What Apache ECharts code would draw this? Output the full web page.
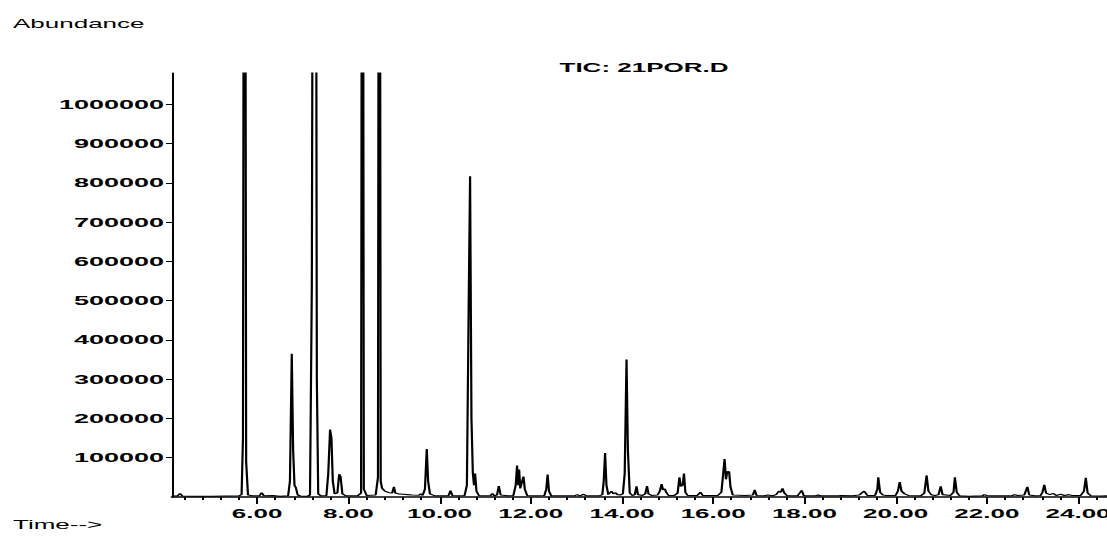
<!DOCTYPE html>
<html>
<head>
<meta charset="utf-8">
<script src="https://cdn.jsdelivr.net/npm/echarts@6/dist/echarts.min.js"></script>
<style>
  html, body { margin: 0; padding: 0; background: #fff; overflow: hidden; }
  #wrap { width: 1107px; height: 543px; overflow: hidden; position: relative; }
  /* chart laid out at half width, then widened like the instrument printout */
  #chart { width: 553.5px; height: 543px; transform: scaleX(2); transform-origin: 0 0; }
</style>
</head>
<body>
<div id="wrap"><div id="chart"></div></div>
<script>
// Total ion chromatogram: retention time (min) and abundance
const rt = [
  4.13, 4.25, 4.31, 4.36, 4.60, 5.00, 5.30, 5.60, 5.66, 5.69, 5.725, 5.76, 5.80, 5.90,
  6.05, 6.10, 6.15, 6.35, 6.50, 6.68, 6.72, 6.76, 6.79, 6.82, 6.85, 6.89, 6.95,
  7.10, 7.16, 7.20, 7.24, 7.26, 7.28, 7.31, 7.34, 7.40, 7.52, 7.56, 7.60, 7.63, 7.66, 7.70,
  7.76, 7.80, 7.83, 7.87, 7.95, 8.20, 8.28, 8.31, 8.34, 8.40, 8.60, 8.65, 8.68,
  8.71, 8.74, 8.80, 8.90, 8.96, 9.00, 9.03, 9.10, 9.20, 9.30, 9.40, 9.55, 9.59, 9.63,
  9.68, 9.72, 9.75, 9.79, 9.90, 10.10, 10.20, 10.24, 10.28, 10.45, 10.55, 10.60, 10.64,
  10.67, 10.70, 10.73, 10.755, 10.78, 10.81, 10.86, 11.00, 11.12, 11.16, 11.20, 11.26,
  11.30, 11.34, 11.50, 11.62, 11.67, 11.70, 11.725, 11.745, 11.77, 11.80, 11.84, 11.87,
  11.92, 12.10, 12.30, 12.34, 12.37, 12.40, 12.45, 12.80, 12.95, 13.02, 13.08, 13.16,
  13.22, 13.50, 13.57, 13.60, 13.63, 13.66, 13.70, 13.77, 13.81, 13.86, 13.90, 13.96,
  14.02, 14.06, 14.10, 14.13, 14.17, 14.23, 14.28, 14.32, 14.35, 14.45, 14.51, 14.55,
  14.58, 14.65, 14.78, 14.83, 14.87, 14.90, 14.94, 14.97, 15.02, 15.15, 15.22, 15.26,
  15.29, 15.33, 15.36, 15.39, 15.44, 15.65, 15.72, 15.77, 16.10, 16.18, 16.22, 16.25,
  16.28, 16.31, 16.35, 16.38, 16.43, 16.70, 16.87, 16.91, 16.95, 17.12, 17.20, 17.30,
  17.38, 17.44, 17.48, 17.52, 17.56, 17.62, 17.85, 17.94, 17.99, 18.25, 18.30, 18.35,
  18.75, 18.80, 19.05, 19.20, 19.31, 19.38, 19.55, 19.60, 19.62, 19.66, 19.72, 19.80,
  20.00, 20.05, 20.09, 20.13, 20.20, 20.28, 20.55, 20.63, 20.68, 20.72, 20.78, 20.86,
  20.94, 20.99, 21.03, 21.20, 21.27, 21.30, 21.34, 21.40, 21.60, 21.90, 21.94, 22.00,
  22.10, 22.55, 22.60, 22.68, 22.82, 22.89, 22.93, 23.05, 23.18, 23.22, 23.26, 23.30,
  23.38, 23.46, 23.52, 23.62, 23.70, 23.80, 23.88, 24.06, 24.13, 24.17, 24.21, 24.28,
  24.50, 24.66
];
const abundance = [
  3000, 2500, 9000, 2500, 2000, 2000, 2500, 3000, 6000, 150000, 3000000, 90000, 5000, 3000,
  3000, 11000, 3000, 4000, 2000, 3000, 40000, 365000, 120000, 30000, 24000, 5000, 2500,
  2000, 5000, 540000, 2600000, 1500000, 2500000, 300000, 8000, 3000, 4000, 60000, 172000, 150000, 40000, 8000,
  10000, 58000, 52000, 8000, 3000, 3000, 10000, 3000000, 20000, 4000, 5000, 50000, 3000000,
  40000, 22000, 15000, 11000, 10000, 26000, 10000, 8000, 7000, 6000, 5000, 4500, 8000, 4000,
  20000, 122000, 40000, 8000, 3000, 3000, 4000, 16000, 4000, 3000, 4000, 30000, 500000,
  817000, 200000, 62000, 30000, 60000, 15000, 4000, 3000, 4000, 9000, 3000, 5000,
  28000, 5000, 3000, 4000, 30000, 80000, 30000, 70000, 22000, 22000, 52000, 20000,
  4000, 3000, 4000, 20000, 57000, 15000, 3000, 3000, 3000, 6000, 3000, 7000,
  3000, 3000, 6000, 40000, 112000, 30000, 6000, 15000, 8000, 11000, 6000, 5000,
  8000, 60000, 350000, 120000, 10000, 4000, 6000, 27000, 6000, 4000, 8000, 28000,
  8000, 4000, 5000, 15000, 33000, 18000, 21000, 12000, 4000, 4000, 10000, 50000,
  27000, 30000, 60000, 12000, 4000, 4000, 12000, 4000, 4000, 12000, 60000, 97000,
  45000, 65000, 64000, 25000, 5000, 4000, 5000, 18000, 4000, 3000, 5000, 3000,
  6000, 15000, 12000, 22000, 10000, 3000, 3000, 17000, 3000, 3000, 5000, 3000,
  3000, 4000, 3000, 5000, 15000, 4000, 4000, 20000, 50000, 12000, 5000, 4000,
  4000, 15000, 38000, 15000, 8000, 4000, 3000, 10000, 55000, 15000, 6000, 4000,
  6000, 27000, 6000, 4000, 12000, 50000, 12000, 3000, 2000, 3000, 6000, 4000,
  3000, 3000, 6000, 4000, 5000, 26000, 5000, 3000, 4000, 12000, 31000, 10000,
  6000, 9000, 4000, 7000, 4000, 6000, 4000, 4000, 15000, 49000, 10000, 3000,
  2500, 3000
];

// Axis ticks and labels
const timeLabels = [6, 8, 10, 12, 14, 16, 18, 20, 22, 24];
const timeMinorTicks = [
  4.4, 4.8, 5.2, 5.6, 6.4, 6.8, 7.2, 7.6, 8.4, 8.8, 9.2, 9.6, 10.4, 10.8, 11.2, 11.6,
  12.4, 12.8, 13.2, 13.6, 14.4, 14.8, 15.2, 15.6, 16.4, 16.8, 17.2, 17.6, 18.4, 18.8,
  19.2, 19.6, 20.4, 20.8, 21.2, 21.6, 22.4, 22.8, 23.2, 23.6, 24.4
];
const abundanceLabels = [100000, 200000, 300000, 400000, 500000, 600000, 700000, 800000, 900000, 1000000];

const timeRange = [4.134, 24.657];
const abundanceMax = 1080000;

const FONT = 'Liberation Sans, Arial, Helvetica, sans-serif';
const ink = '#000';

const chart = echarts.init(document.getElementById('chart'), null, { renderer: 'svg' });

chart.setOption({
  animation: false,
  backgroundColor: '#fff',
  title: [
    {
      text: 'TIC: 21POR.D', left: 322, top: 61, textAlign: 'center', padding: 0,
      textStyle: { fontFamily: FONT, fontSize: 13, fontWeight: 'bold', color: ink }
    },
    {
      text: 'Abundance', left: 6.5, top: 17, padding: 0,
      textStyle: { fontFamily: FONT, fontSize: 13, fontWeight: 'normal', color: ink }
    },
    {
      text: 'Time-->', left: 6.5, top: 518, padding: 0,
      textStyle: { fontFamily: FONT, fontSize: 13, fontWeight: 'normal', color: ink }
    }
  ],
  grid: { left: 86, right: 0, top: 73, bottom: 46, containLabel: false, outerBoundsMode: 'none' },
  xAxis: [
    {
      type: 'value', min: timeRange[0], max: timeRange[1],
      axisLine: { show: true, onZero: false, lineStyle: { color: ink, width: 1.6 } },
      axisTick: { show: true, customValues: timeLabels, length: 7, lineStyle: { color: ink, width: 1 } },
      axisLabel: {
        customValues: timeLabels, margin: 10, color: ink,
        fontFamily: FONT, fontSize: 13, fontWeight: 'bold',
        formatter: v => v.toFixed(2)
      },
      splitLine: { show: false }
    },
    {
      type: 'value', min: timeRange[0], max: timeRange[1], position: 'bottom',
      axisLine: { show: false },
      axisTick: { show: true, customValues: timeMinorTicks, length: 3, lineStyle: { color: ink, width: 1 } },
      axisLabel: { show: false },
      splitLine: { show: false }
    }
  ],
  yAxis: {
    type: 'value', min: 0, max: abundanceMax,
    axisLine: { show: true, lineStyle: { color: ink, width: 1 } },
    axisTick: { show: true, customValues: abundanceLabels, length: 3, lineStyle: { color: ink, width: 1 } },
    axisLabel: {
      customValues: abundanceLabels, margin: 4, color: ink,
      fontFamily: FONT, fontSize: 13.5, fontWeight: 'bold',
      formatter: v => String(v)
    },
    splitLine: { show: false }
  },
  series: [{
    type: 'line',
    xAxisIndex: 0,
    data: rt.map((t, i) => [t, abundance[i]]),
    showSymbol: false,
    clip: true,
    lineStyle: { color: ink, width: 1.1 }
  }]
});
</script>
</body>
</html>
